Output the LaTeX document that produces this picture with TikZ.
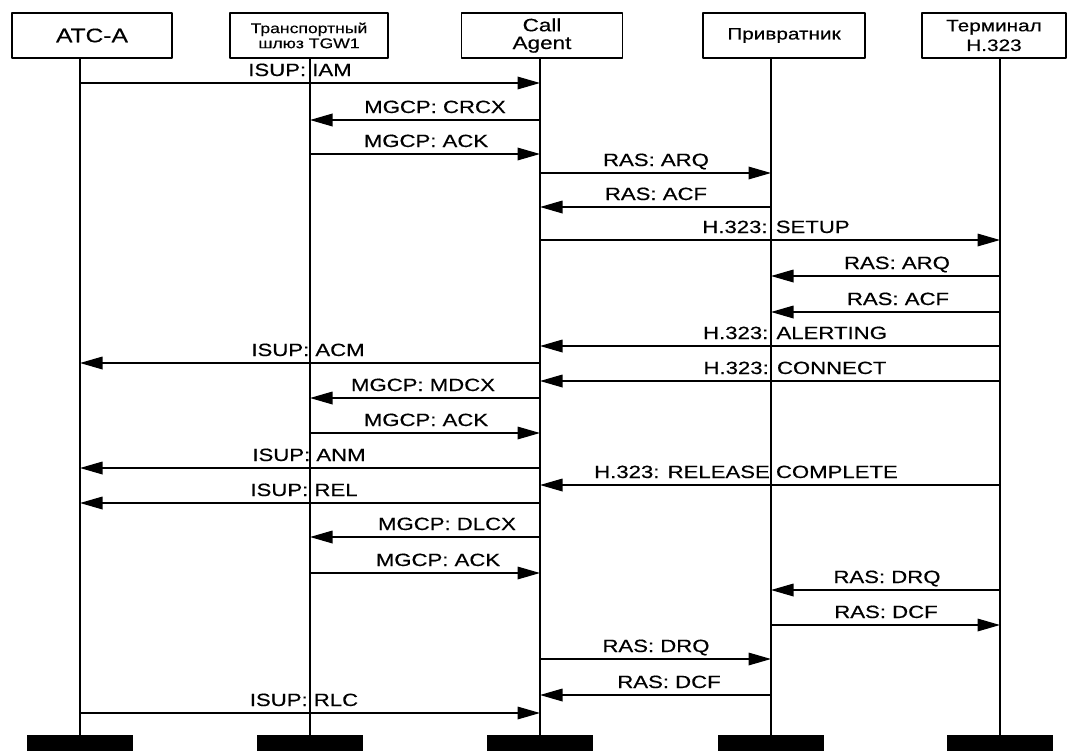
\documentclass[tikz,border=0pt]{standalone}
\usepackage{fontspec}
\setmainfont{Liberation Sans}[FakeStretch=1.25, FakeBold=0.4]
\usetikzlibrary{arrows.meta}

\begin{document}
\begin{tikzpicture}[x=0.025cm, y=-0.025cm, line cap=round, line join=round,
	entity/.style={draw, line width=1pt, minimum height=1.125cm, inner sep=1pt, align=center},
	bar/.style={fill=black, minimum width=2.625cm, minimum height=0.4cm, inner sep=0pt},
	lifeline/.style={line width=1.2pt},
	msg/.style={line width=0.9pt, -{Triangle[length=16pt, width=9pt]}},
	lbl/.style={anchor=base, inner sep=0pt, font=\fontsize{12.6}{14}\selectfont}]
	
	\useasboundingbox (0,0) rectangle (1074,751);
	
	% Header boxes
	\node (atc) [entity, minimum width=4cm, font=\fontsize{14}{16}\selectfont] at (92,35.5) {АТС-А};
	\node (tgw) [entity, minimum width=3.95cm, font=\fontsize{10}{10.7}\selectfont] at (309,35.5) {Транспортный\\ шлюз TGW1};
	\node (ca) [entity, minimum width=4.02cm, font=\fontsize{12.8}{12.6}\selectfont] at (542,35.5) {Call\\ Agent};
	\node (gk) [entity, minimum width=4.05cm, font=\fontsize{11.8}{14}\selectfont] at (784,35.5) {Привратник};
	\node (term) [entity, minimum width=3.6cm, font=\fontsize{11.8}{14}\selectfont] at (994,35.5) {Терминал\\ H.323};
	
	% Bottom bars
	\node (atcB) [bar] at (80,743) {};
	\node (tgwB) [bar] at (310,743) {};
	\node (caB) [bar] at (540,743) {};
	\node (gkB) [bar] at (771,743) {};
	\node (termB) [bar] at (1000,743) {};
	
	% Lifelines
	\draw[lifeline] (atcB |- atc.south) -- (atcB.north);
	\draw[lifeline] (tgwB |- tgw.south) -- (tgwB.north);
	\draw[lifeline] (caB |- ca.south) -- (caB.north);
	\draw[lifeline] (gkB |- gk.south) -- (gkB.north);
	\draw[lifeline] (termB |- term.south) -- (termB.north);
	
	% Labels
	\node (m1) [lbl] at (300,76) {ISUP: IAM};
	\node (m2) [lbl] at (435,113) {MGCP: CRCX};
	\node (m3) [lbl] at (426,147) {MGCP: ACK};
	\node (m4) [lbl] at (656,166) {RAS: ARQ};
	\node (m5) [lbl] at (656,200) {RAS: ACF};
	\node (m6) [lbl] at (776,233) {H.323: SETUP};
	\node (m7) [lbl] at (897,269) {RAS: ARQ};
	\node (m8) [lbl] at (898,305) {RAS: ACF};
	\node (m9) [lbl] at (795,339) {H.323: ALERTING};
	\node (m10) [lbl] at (308,356) {ISUP: ACM};
	\node (m11) [lbl] at (795,374) {H.323: CONNECT};
	\node (m12) [lbl] at (423,391) {MGCP: MDCX};
	\node (m13) [lbl] at (426,426) {MGCP: ACK};
	\node (m14) [lbl] at (309,461) {ISUP: ANM};
	\node (m15) [lbl] at (746,478) {H.323: RELEASE COMPLETE};
	\node (m16) [lbl] at (304,496) {ISUP: REL};
	\node (m17) [lbl] at (447,530) {MGCP: DLCX};
	\node (m18) [lbl] at (438,566) {MGCP: ACK};
	\node (m19) [lbl] at (887,583) {RAS: DRQ};
	\node (m20) [lbl] at (886,618) {RAS: DCF};
	\node (m21) [lbl] at (656,652) {RAS: DRQ};
	\node (m22) [lbl] at (669,688) {RAS: DCF};
	\node (m23) [lbl] at (304,706) {ISUP: RLC};
	
	% Messages
	\draw[msg] (atcB |- 0,83) -- (caB |- 0,83);
	\draw[msg] (caB |- 0,120) -- (tgwB |- 0,120);
	\draw[msg] (tgwB |- 0,154) -- (caB |- 0,154);
	\draw[msg] (caB |- 0,173) -- (gkB |- 0,173);
	\draw[msg] (gkB |- 0,207) -- (caB |- 0,207);
	\draw[msg] (caB |- 0,240) -- (termB |- 0,240);
	\draw[msg] (termB |- 0,276) -- (gkB |- 0,276);
	\draw[msg] (termB |- 0,312) -- (gkB |- 0,312);
	\draw[msg] (termB |- 0,346) -- (caB |- 0,346);
	\draw[msg] (caB |- 0,363) -- (atcB |- 0,363);
	\draw[msg] (termB |- 0,381) -- (caB |- 0,381);
	\draw[msg] (caB |- 0,398) -- (tgwB |- 0,398);
	\draw[msg] (tgwB |- 0,433) -- (caB |- 0,433);
	\draw[msg] (caB |- 0,468) -- (atcB |- 0,468);
	\draw[msg] (termB |- 0,485) -- (caB |- 0,485);
	\draw[msg] (caB |- 0,503) -- (atcB |- 0,503);
	\draw[msg] (caB |- 0,537) -- (tgwB |- 0,537);
	\draw[msg] (tgwB |- 0,573) -- (caB |- 0,573);
	\draw[msg] (termB |- 0,590) -- (gkB |- 0,590);
	\draw[msg] (gkB |- 0,625) -- (termB |- 0,625);
	\draw[msg] (caB |- 0,659) -- (gkB |- 0,659);
	\draw[msg] (gkB |- 0,695) -- (caB |- 0,695);
	\draw[msg] (atcB |- 0,713) -- (caB |- 0,713);
	
\end{tikzpicture}
\end{document}
